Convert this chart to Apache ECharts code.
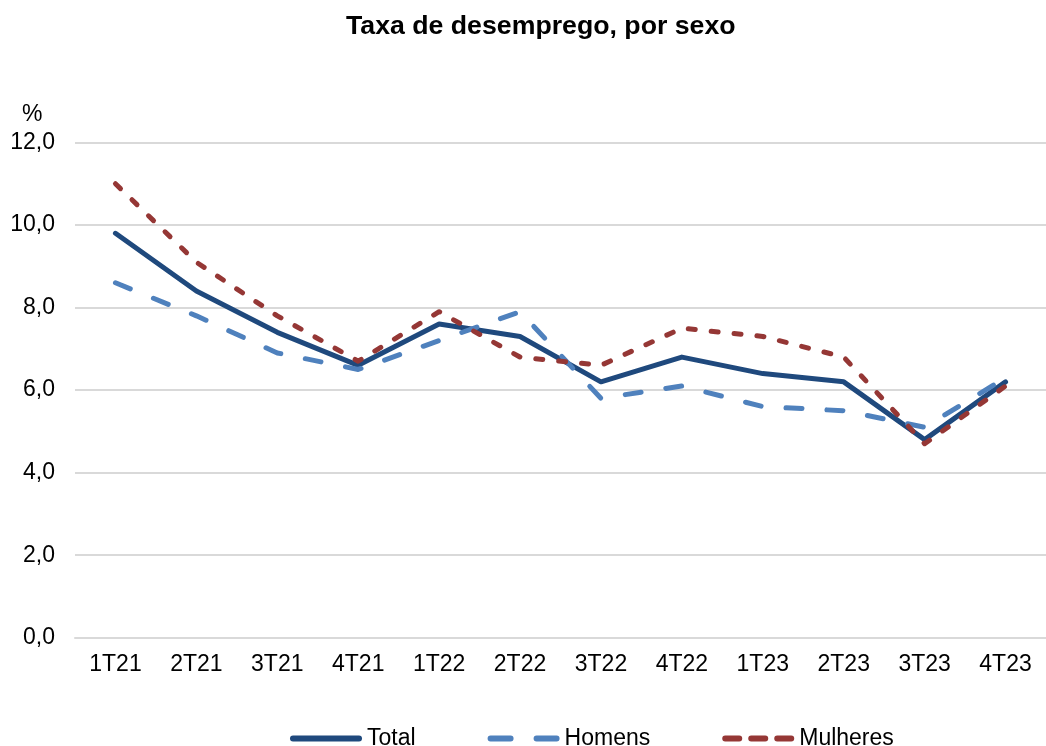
<!DOCTYPE html>
<html>
<head>
<meta charset="utf-8">
<script src="https://cdn.jsdelivr.net/npm/echarts@6/dist/echarts.min.js"></script>
<style>html,body{margin:0;padding:0;background:#fff}#c{width:1046px;height:746px}</style>
</head>
<body>
<div id="c"></div>
<script>
const categories = ['1T21','2T21','3T21','4T21','1T22','2T22','3T22','4T22','1T23','2T23','3T23','4T23'];
const total    = [9.8, 8.4, 7.4, 6.6, 7.6, 7.3, 6.2, 6.8, 6.4, 6.2, 4.8, 6.2];
const homens   = [8.6, 7.8, 6.9, 6.5, 7.2, 7.9, 5.8, 6.1, 5.6, 5.5, 5.1, 6.3];
const mulheres = [11.0, 9.1, 7.8, 6.7, 7.9, 6.8, 6.6, 7.5, 7.3, 6.8, 4.7, 6.1];
const yTicks = [0, 2, 4, 6, 8, 10, 12];

const FONT = 'Liberation Sans, Arial, sans-serif';
function seg(a, b) { // rounded dash from x=a to x=b, height 6
  return 'M' + (a + 3) + ',0H' + (b - 3) + 'A3,3 0 0 1 ' + (b - 3) + ',6H' + (a + 3) + 'A3,3 0 0 1 ' + (a + 3) + ',0Z';
}
const chart = echarts.init(document.getElementById('c'), null, {renderer: 'canvas'});
chart.setOption({
  animation: false,
  backgroundColor: '#fff',
  title: {
    text: 'Taxa de desemprego, por sexo',
    left: 341, top: 8,
    textStyle: {fontFamily: FONT, fontSize: 26.7, fontWeight: 'bold', color: '#000'}
  },
  graphic: [{
    type: 'text', left: 22, top: 103,
    style: {text: '%', font: '23px ' + FONT, fill: '#000'}
  }],
  legend: {
    left: 285, top: 722,
    itemWidth: 72, itemHeight: 6, itemGap: 72,
    textStyle: {fontFamily: FONT, fontSize: 23, color: '#000'},
    data: [
      {name: 'Total', icon: 'path://' + seg(0, 72)},
      {name: 'Homens', icon: 'path://' + seg(0, 26) + ' ' + seg(46, 72)},
      {name: 'Mulheres', icon: 'path://' + seg(0, 20) + ' ' + seg(26, 46) + ' ' + seg(52, 72)}
    ]
  },
  grid: {left: 75, top: 142.5, width: 978, height: 495.2, containLabel: false},
  xAxis: {
    type: 'category', data: categories, boundaryGap: true,
    axisLine: {show: true, lineStyle: {color: '#D9D9D9', width: 2}},
    axisTick: {show: false},
    axisLabel: {fontFamily: FONT, fontSize: 23, color: '#000', margin: 15}
  },
  yAxis: {
    type: 'value', min: yTicks[0], max: yTicks[yTicks.length - 1], interval: 2,
    axisLine: {show: false}, axisTick: {show: false},
    splitLine: {lineStyle: {color: '#D9D9D9', width: 2}},
    axisLabel: {
      fontFamily: FONT, fontSize: 23, color: '#000', margin: 20,
      formatter: v => v.toFixed(1).replace('.', ',')
    }
  },
  series: [
    {name: 'Total', type: 'line', data: total, symbol: 'none',
     itemStyle: {color: '#1F497D'},
     lineStyle: {color: '#1F497D', width: 5, cap: 'round', join: 'round'}},
    {name: 'Homens', type: 'line', data: homens, symbol: 'none',
     itemStyle: {color: '#4F81BD'},
     lineStyle: {color: '#4F81BD', width: 5, type: [16, 25], cap: 'round', join: 'round'}},
    {name: 'Mulheres', type: 'line', data: mulheres, symbol: 'none',
     itemStyle: {color: '#953735'},
     lineStyle: {color: '#953735', width: 5, type: [7, 16], cap: 'round', join: 'round'}}
  ]
});
</script>
</body>
</html>
